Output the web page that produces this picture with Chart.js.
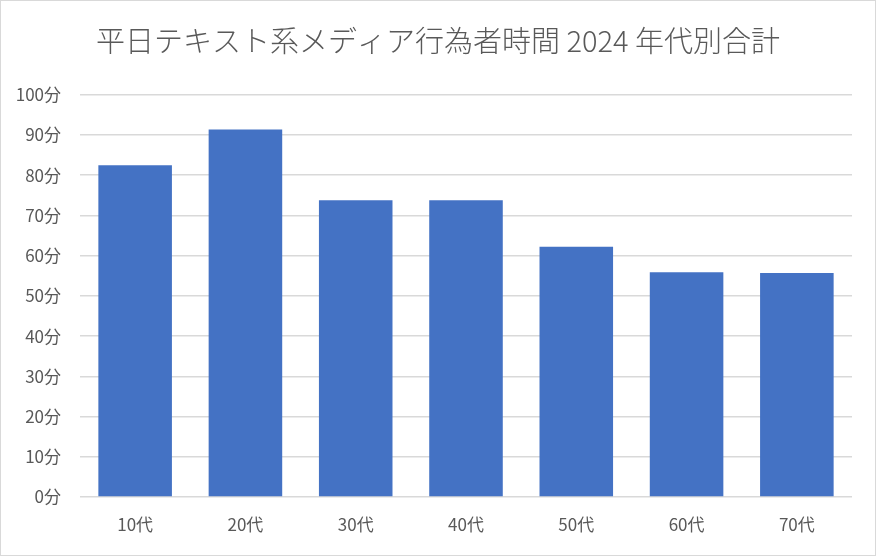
<!DOCTYPE html>
<html lang="ja">
<head>
<meta charset="utf-8">
<script src="https://cdn.jsdelivr.net/npm/chart.js@4"></script>
<style>
    html, body { margin: 0; padding: 0; background: #ffffff; }
    #wrap {
        width: 876px; height: 556px;
        box-sizing: border-box;
        border: 1px solid #d9d9d9;
        position: relative;
    }
    #chart { display: block; }
</style>
</head>
<body>
<div id="wrap"><canvas id="chart" width="874" height="554"></canvas></div>
<script>
// 平日テキスト系メディア行為者時間 2024（年代別合計、分）
const ageGroups = ['10代', '20代', '30代', '40代', '50代', '60代', '70代'];
const minutes = [82.5, 91.4, 73.8, 73.8, 62.2, 55.9, 55.7];
const chartTitle = '平日テキスト系メディア行為者時間 2024 年代別合計';

const fontFamily = '"Noto Sans CJK JP", "Noto Sans", sans-serif';
const textColor = '#595959';

Chart.defaults.font.family = fontFamily;
Chart.defaults.color = textColor;

const ctx = document.getElementById('chart').getContext('2d');
new Chart(ctx, {
    type: 'bar',
    data: {
        labels: ageGroups,
        datasets: [{
            label: '行為者時間',
            data: minutes,
            backgroundColor: '#4472C4',
            borderWidth: 0,
            categoryPercentage: 1.0,
            barPercentage: 0.667
        }]
    },
    options: {
        responsive: false,
        animation: false,
        layout: {
            padding: 0
        },
        plugins: {
            legend: { display: false },
            tooltip: { enabled: false },
            title: {
                display: true,
                text: chartTitle,
                color: textColor,
                font: { size: 29, weight: 300 },
                padding: { top: 23, bottom: 36 }
            }
        },
        scales: {
            x: {
                grid: { display: false, drawTicks: false },
                border: { display: false },
                ticks: { padding: 17, font: { size: 17 }, color: textColor },
                afterFit: function(scale) { scale.height = 58; }
            },
            y: {
                min: 0,
                max: 100,
                grid: { color: '#d9d9d9', lineWidth: 1.5, drawTicks: false },
                border: { display: false },
                ticks: {
                    stepSize: 10,
                    padding: 19,
                    font: { size: 17 },
                    color: textColor,
                    callback: function(value) { return value + '分'; }
                },
                afterFit: function(scale) { scale.width = 79; }
            },
            // empty right-hand margin so the title stays centred on the canvas
            yRight: {
                position: 'right',
                min: 0,
                max: 100,
                grid: { display: false, drawTicks: false },
                border: { display: false },
                ticks: { display: false },
                afterFit: function(scale) { scale.width = 23; }
            }
        }
    }
});
</script>
</body>
</html>
